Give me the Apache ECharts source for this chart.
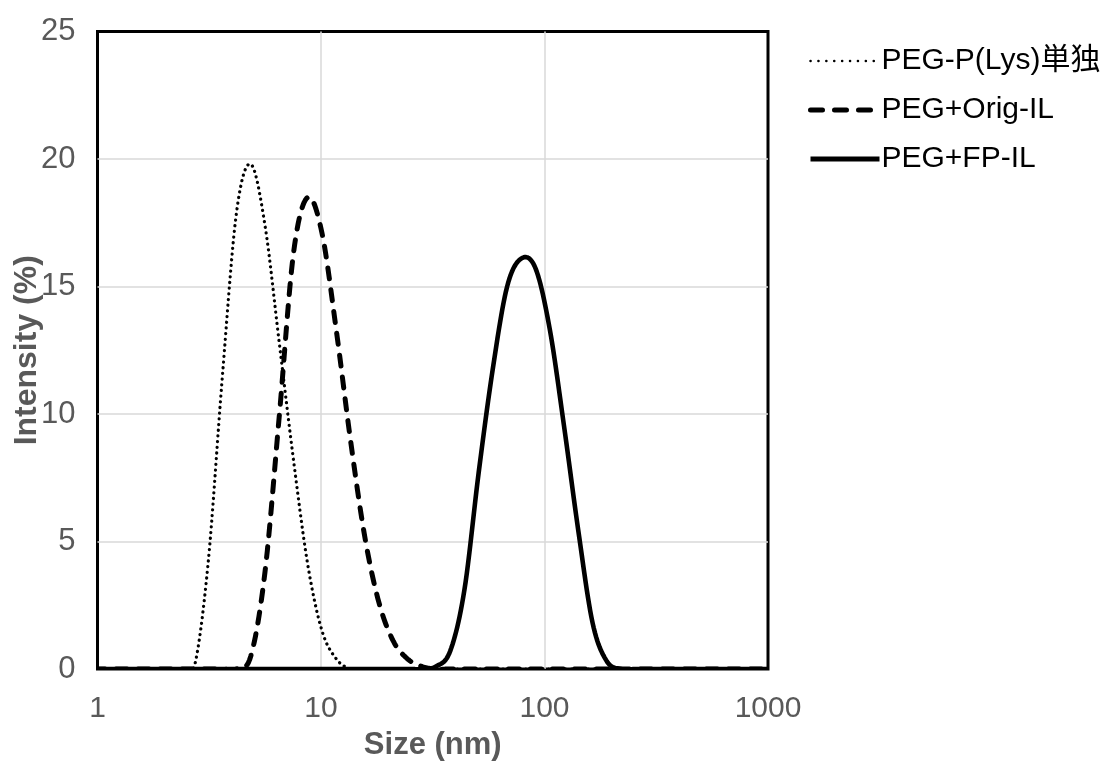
<!DOCTYPE html>
<html>
<head>
<meta charset="utf-8">
<script src="https://cdn.jsdelivr.net/npm/echarts@6/dist/echarts.min.js"></script>
<style>
html,body{margin:0;padding:0;background:#fff;}
#chart{width:1119px;height:769px;}
</style>
</head>
<body>
<div id="chart"></div>
<script>
// Size bins (nm)
var sizes = [0.965, 1.117, 1.294, 1.499, 1.736, 2.010, 2.328, 2.696, 3.122, 3.615,
  4.187, 4.849, 5.615, 6.503, 7.531, 8.721, 10.10, 11.70, 13.54, 15.69,
  18.17, 21.04, 24.36, 28.21, 32.67, 37.84, 43.82, 50.75, 58.77, 68.06,
  78.82, 91.28, 105.7, 122.4, 141.8, 164.2, 190.1, 220.2, 255.0, 295.3,
  342.0, 396.1, 458.7, 531.2, 615.1, 712.4, 825.0, 955.4, 1106];

// Intensity (%) per bin
var pegPLys = [0, 0, 0, 0, 0, 0, 0, 0, 4.1, 11.4,
  17.9, 19.8, 17.4, 12.8, 8.2, 4.1, 1.5, 0.4, 0, 0,
  0, 0, 0, 0, 0, 0, 0, 0, 0, 0,
  0, 0, 0, 0, 0, 0, 0, 0, 0, 0,
  0, 0, 0, 0, 0, 0, 0, 0, 0];
var pegOrigIL = [0, 0, 0, 0, 0, 0, 0, 0, 0, 0,
  0, 0.5, 3.8, 9.9, 16.3, 18.5, 17.1, 13.3, 9.0, 5.2,
  2.6, 1.1, 0.4, 0.1, 0, 0, 0, 0, 0, 0,
  0, 0, 0, 0, 0, 0, 0, 0, 0, 0,
  0, 0, 0, 0, 0, 0, 0, 0, 0];
var pegFPIL = [0, 0, 0, 0, 0, 0, 0, 0, 0, 0,
  0, 0, 0, 0, 0, 0, 0, 0, 0, 0,
  0, 0, 0, 0, 0.1, 0.7, 3.1, 7.7, 11.8, 15.0,
  16.1, 15.7, 13.3, 9.5, 5.4, 1.8, 0.3, 0, 0, 0,
  0, 0, 0, 0, 0, 0, 0, 0, 0];

var seriesNames = ['PEG-P(Lys)単独', 'PEG+Orig-IL', 'PEG+FP-IL'];
var seriesValues = [pegPLys, pegOrigIL, pegFPIL];

function pairs(vals) {
  return sizes.map(function (s, i) { return [s, vals[i]]; });
}

var FONT = "'Liberation Sans', Arial, 'Noto Sans CJK JP', sans-serif";
var curveStyles = [
  {lineWidth: 3.2, lineDash: [0.1, 5.6], lineCap: 'round'},
  {lineWidth: 5, lineDash: [11, 11], lineCap: 'round'},
  {lineWidth: 4.6, lineDash: null, lineCap: 'round', lineJoin: 'round'}
];

// Smooth (Catmull-Rom, like a spreadsheet "smoothed line") through the
// data points, positioned by the chart's own axes via api.coord.
function smoothPoints(api, vals) {
  var p = sizes.map(function (s, i) { return api.coord([s, vals[i]]); });
  var n = p.length, out = [p[0]];
  for (var i = 0; i < n - 1; i++) {
    var p0 = p[Math.max(i - 1, 0)], p1 = p[i], p2 = p[i + 1], p3 = p[Math.min(i + 2, n - 1)];
    var c1x = p1[0] + (p2[0] - p0[0]) / 6, c1y = p1[1] + (p2[1] - p0[1]) / 6;
    var c2x = p2[0] - (p3[0] - p1[0]) / 6, c2y = p2[1] - (p3[1] - p1[1]) / 6;
    for (var t = 1; t <= 12; t++) {
      var u = t / 12, m = 1 - u;
      out.push([
        m * m * m * p1[0] + 3 * m * m * u * c1x + 3 * m * u * u * c2x + u * u * u * p2[0],
        m * m * m * p1[1] + 3 * m * m * u * c1y + 3 * m * u * u * c2y + u * u * u * p2[1]
      ]);
    }
  }
  return out;
}

var series = [];
// line series (carry the legend entries)
seriesNames.forEach(function (name, k) {
  series.push({
    name: name, type: 'line', data: pairs(seriesValues[k]), smooth: 0.5,
    symbol: 'none', silent: true, z: 1,
    lineStyle: {color: '#000000', opacity: 0, width: 0}
  });
});
// drawn curves
seriesNames.forEach(function (name, k) {
  var vals = seriesValues[k];
  series.push({
    name: name, type: 'custom', coordinateSystem: 'cartesian2d',
    data: pairs(vals), encode: {x: 0, y: 1}, clip: true, silent: true, z: 3 + k,
    renderItem: function (params, api) {
      if (params.dataIndex !== 0) return null;
      var st = curveStyles[k];
      return {
        type: 'polyline',
        shape: {points: smoothPoints(api, vals)},
        style: {fill: null, stroke: '#000000', lineWidth: st.lineWidth, lineDash: st.lineDash,
          lineCap: st.lineCap, lineJoin: 'round'}
      };
    }
  });
});

var chart = echarts.init(document.getElementById('chart'), null, {renderer: 'canvas'});
chart.setOption({
  animation: false,
  backgroundColor: '#ffffff',
  grid: {
    left: 97.5, right: 351, top: 31.5, bottom: 100,
    outerBoundsMode: 'none', containLabel: false,
    show: true, borderColor: '#000000', borderWidth: 3, backgroundColor: 'transparent'
  },
  legend: {
    orient: 'vertical',
    left: 803, top: 41,
    itemWidth: 69, itemHeight: 14, itemGap: 19,
    selectedMode: false,
    data: [
      {name: seriesNames[0], itemStyle: {opacity: 0}, lineStyle: {color: '#000', opacity: 1, width: 2.5, type: [0.1, 7.8], cap: 'round'}},
      {name: seriesNames[1], itemStyle: {opacity: 0}, lineStyle: {color: '#000', opacity: 1, width: 5, type: [12, 12], cap: 'round'}},
      {name: seriesNames[2], itemStyle: {opacity: 0}, lineStyle: {color: '#000', opacity: 1, width: 5, type: 'solid', cap: 'butt'}}
    ],
    textStyle: {fontFamily: FONT, fontSize: 30, color: '#000000', padding: [0, 0, 0, -3]}
  },
  xAxis: {
    type: 'log', logBase: 10, min: 1, max: 1000,
    name: 'Size (nm)', nameLocation: 'middle', nameGap: 61, nameMoveOverlap: false,
    nameTextStyle: {fontFamily: FONT, fontSize: 31, fontWeight: 'bold', color: '#595959'},
    axisLine: {show: false}, axisTick: {show: false},
    axisLabel: {fontFamily: FONT, fontSize: 30, color: '#595959', margin: 25,
      formatter: function (v) { return String(Math.round(v)); }},
    splitLine: {show: true, showMinLine: false, showMaxLine: false, lineStyle: {color: '#d9d9d9', width: 1.5}},
    minorSplitLine: {show: false}
  },
  yAxis: {
    type: 'value', min: 0, max: 25, interval: 5,
    name: 'Intensity (%)', nameLocation: 'middle', nameGap: 54, nameMoveOverlap: false,
    nameTextStyle: {fontFamily: FONT, fontSize: 32, fontWeight: 'bold', color: '#595959'},
    axisLine: {show: false}, axisTick: {show: false},
    axisLabel: {fontFamily: FONT, fontSize: 31, color: '#595959', margin: 22},
    splitLine: {show: true, showMinLine: false, showMaxLine: false, lineStyle: {color: '#d9d9d9', width: 1.5}}
  },
  series: series
});
</script>
</body>
</html>
